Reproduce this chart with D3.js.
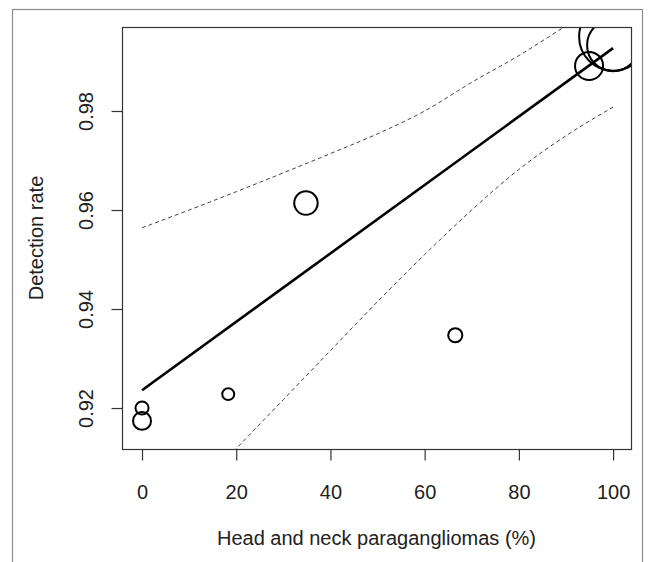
<!DOCTYPE html>
<html>
<head>
<meta charset="utf-8">
<script src="https://cdn.jsdelivr.net/npm/d3@7"></script>
<style>
    html, body { margin: 0; padding: 0; background: #fff; }
    svg { display: block; }
    text { font-family: 'Liberation Sans', Arial, sans-serif; fill: #222; }
</style>
</head>
<body>
<svg id="chart" width="648" height="562"></svg>
<script>
// studies: % head and neck paragangliomas vs detection rate
const studyPct = [0, 0, 18.3, 34.8, 66.5, 94.9, 100, 100];
const detectionRate = [0.9200, 0.9174, 0.9228, 0.9614, 0.9347, 0.9891, 0.9950, 0.9933];
const studyWeight = [1.8, 3.4, 1.5, 5.8, 2.1, 8.3, 48.7, 28.5];

// fitted meta-regression line
const fitPct = [0, 100];
const fitRate = [0.9236, 0.9927];

// confidence band
const bandPct = [0, 10, 20, 30, 40, 50, 60, 70, 80, 90, 100];
const ciUpper = [0.9564, 0.9600, 0.9637, 0.9675, 0.9714, 0.9754, 0.9800, 0.9858, 0.9912, 0.9972, 1.0030];
const ciLower = [0.8917, 0.9018, 0.9118, 0.9217, 0.9316, 0.9415, 0.9510, 0.9600, 0.9682, 0.9750, 0.9808];

const xTicks = [0, 20, 40, 60, 80, 100];
const yTicks = [0.92, 0.94, 0.96, 0.98];

const svg = d3.select('#chart');
const plot = { left: 122, right: 631, top: 27, bottom: 449 };

const x = d3.scaleLinear()
    .domain([-4.25, 103.8])
    .range([plot.left, plot.right]);
const y = d3.scaleLinear()
    .domain([0.91172, 0.99697])
    .range([plot.bottom, plot.top]);
const r = d3.scaleSqrt()
    .domain([0, d3.max(studyWeight)])
    .range([0, 34]);

// outer frame of the figure
svg.append('rect')
    .attr('x', 12.5)
    .attr('y', 9.5)
    .attr('width', 630)
    .attr('height', 570)
    .attr('fill', 'none')
    .attr('stroke', '#8c8c8c')
    .attr('stroke-width', 1.2);

svg.append('clipPath')
    .attr('id', 'clip')
    .append('rect')
    .attr('x', plot.left)
    .attr('y', plot.top)
    .attr('width', plot.right - plot.left)
    .attr('height', plot.bottom - plot.top);

const inner = svg.append('g').attr('clip-path', 'url(#clip)');

// CI band
const band = d3.line()
    .x(d => x(d[0]))
    .y(d => y(d[1]))
    .curve(d3.curveMonotoneX);

[ciUpper, ciLower].forEach(vals => {
    inner.append('path')
        .attr('d', band(bandPct.map((p, i) => [p, vals[i]])))
        .attr('fill', 'none')
        .attr('stroke', '#444')
        .attr('stroke-width', 1)
        .attr('stroke-dasharray', '4,3');
});

// regression line
inner.append('path')
    .attr('d', d3.line()
        .x(d => x(d[0]))
        .y(d => y(d[1]))(fitPct.map((p, i) => [p, fitRate[i]])))
    .attr('fill', 'none')
    .attr('stroke', '#000')
    .attr('stroke-width', 2.6);

// studies
inner.selectAll('circle.study')
    .data(studyPct.map((p, i) => ({ p, rate: detectionRate[i], w: studyWeight[i] })))
    .enter()
    .append('circle')
    .attr('class', 'study')
    .attr('cx', d => x(d.p))
    .attr('cy', d => y(d.rate))
    .attr('r', d => r(d.w))
    .attr('fill', 'none')
    .attr('stroke', '#000')
    .attr('stroke-width', 2);

// plot box
svg.append('rect')
    .attr('x', plot.left + 0.5)
    .attr('y', plot.top + 0.5)
    .attr('width', plot.right - plot.left)
    .attr('height', plot.bottom - plot.top)
    .attr('fill', 'none')
    .attr('stroke', '#333')
    .attr('stroke-width', 1.2);

// x axis
const xAxis = svg.append('g')
    .attr('transform', `translate(0,${plot.bottom + 0.5})`)
    .call(d3.axisBottom(x)
        .tickValues(xTicks)
        .tickSize(11)
        .tickPadding(24)
        .tickFormat(d3.format('d')));
xAxis.select('.domain').remove();
xAxis.selectAll('.tick line').attr('stroke', '#333').attr('stroke-width', 1.2);
xAxis.selectAll('.tick text')
    .attr('font-size', 20)
    .attr('fill', '#222')
    .style('font-family', null);

// y axis
const yAxis = svg.append('g')
    .attr('transform', `translate(${plot.left + 0.5},0)`)
    .call(d3.axisLeft(y)
        .tickValues(yTicks)
        .tickSize(11)
        .tickFormat(d3.format('.2f')));
yAxis.select('.domain').remove();
yAxis.selectAll('.tick line').attr('stroke', '#333').attr('stroke-width', 1.2);
yAxis.selectAll('.tick text')
    .attr('x', null)
    .attr('dy', null)
    .attr('font-size', 20)
    .attr('fill', '#222')
    .attr('text-anchor', 'middle')
    .attr('transform', 'translate(-30,0) rotate(-90)')
    .style('font-family', null);

// axis titles
svg.append('text')
    .attr('x', (plot.left + plot.right) / 2)
    .attr('y', 545)
    .attr('text-anchor', 'middle')
    .attr('font-size', 20)
    .text('Head and neck paragangliomas (%)');

svg.append('text')
    .attr('transform', `translate(43,${(plot.top + plot.bottom) / 2}) rotate(-90)`)
    .attr('text-anchor', 'middle')
    .attr('font-size', 20)
    .text('Detection rate');
</script>
</body>
</html>
